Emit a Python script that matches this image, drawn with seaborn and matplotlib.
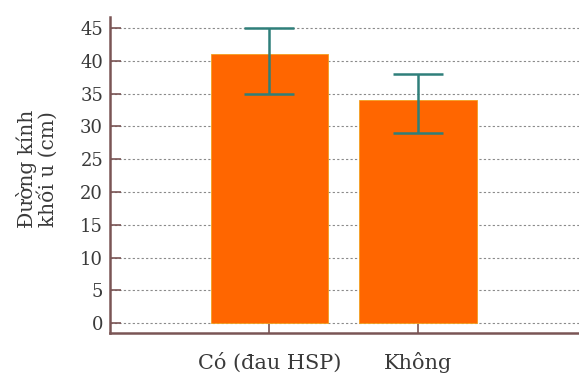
import matplotlib
matplotlib.use("Agg")
import matplotlib.pyplot as plt
import seaborn as sns
import pandas as pd

# Tumour diameter by group
categories = ["Có (đau HSP)", "Không"]
mean_cm = [41, 34]
err_low = [6, 5]
err_high = [4, 4]
y_ticks = [0, 5, 10, 15, 20, 25, 30, 35, 40, 45]

df = pd.DataFrame({"group": categories, "diameter": mean_cm})

sns.set_theme(style="white")
plt.rcParams["font.family"] = ["DejaVu Serif", "DejaVu Sans"]

fig = plt.figure(figsize=(5.79, 3.76), dpi=100)
ax = fig.add_axes([0.19, 0.1144, 0.81, 0.8406])

ax.yaxis.grid(True, linestyle=(0, (2, 2)), color="#8a8a8a", linewidth=0.8)
ax.set_axisbelow(True)

sns.barplot(data=df, x="group", y="diameter", color="#ff6600", saturation=1,
            width=0.79, errorbar=None, ax=ax, edgecolor="#f2a020", linewidth=0.6)

ax.errorbar(range(len(categories)), mean_cm, yerr=[err_low, err_high],
            fmt="none", ecolor="#2f7f7a", elinewidth=1.8, capsize=18,
            capthick=1.8, zorder=5)

ax.set_xlim(-1.07, 2.08)
ax.set_ylim(-1.5, 46.7)
ax.set_yticks(y_ticks)
ax.set_xlabel("")
ax.set_ylabel("Đường kính\nkhối u (cm)", fontsize=14.5, color="#3a3a3a",
              linespacing=1.05)
ax.yaxis.label.set_verticalalignment("center")
ax.yaxis.set_label_coords(-0.156, 0.52)

spine_color = "#7a5555"
for side in ["top", "right"]:
    ax.spines[side].set_visible(False)
for side in ["left", "bottom"]:
    ax.spines[side].set_visible(True)
    ax.spines[side].set_color(spine_color)
    ax.spines[side].set_linewidth(1.8)

ax.tick_params(axis="y", direction="in", length=8, width=1.2, color=spine_color,
               labelsize=13, labelcolor="#3a3a3a", pad=5, left=True)
ax.tick_params(axis="x", direction="in", length=7, width=1.2, color=spine_color,
               labelsize=15, labelcolor="#3a3a3a", pad=14, bottom=True)

fig.savefig("out.png", dpi=100)
